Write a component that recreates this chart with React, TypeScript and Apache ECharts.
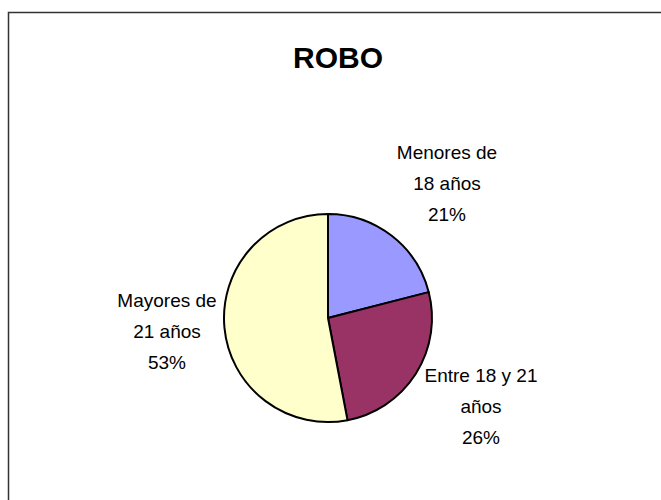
import React, { useEffect, useRef } from "react";
import * as echarts from "echarts";

const titleText = "ROBO";
const categories = ["Menores de\n18 años", "Entre 18 y 21\naños", "Mayores de\n21 años"];
const values = [21, 26, 53];
const colors = ["#9999FF", "#993366", "#FFFFCC"];
const labelPositions = [
  [447, 183],
  [481, 406],
  [167, 331],
];

const FONT = '"Liberation Sans", Arial, sans-serif';

export default function App() {
  const ref = useRef<HTMLDivElement>(null);
  useEffect(() => {
    if (!ref.current) return;
    const chart = echarts.init(ref.current, null, { renderer: "svg" });
    chart.setOption({
      animation: false,
      backgroundColor: "#ffffff",
      title: {
        text: titleText,
        left: 333,
        top: 37,
        textAlign: "center",
        textStyle: {
          fontFamily: FONT,
          fontWeight: "bold",
          fontSize: 30,
          color: "#000",
        },
      },
      graphic: [
        {
          type: "rect",
          shape: { x: 8.5, y: 12.5, width: 700, height: 600 },
          style: { fill: "none", stroke: "#333", lineWidth: 1.5 },
          silent: true,
        },
      ],
      series: [
        {
          type: "pie",
          center: [328, 318],
          radius: 104,
          startAngle: 90,
          clockwise: true,
          data: categories.map((c, i) => ({
            name: c,
            value: values[i],
            itemStyle: { color: colors[i] },
          })),
          itemStyle: { borderColor: "#000", borderWidth: 2 },
          label: {
            show: true,
            position: "outside",
            formatter: "{b}\n{d}%",
            fontFamily: FONT,
            fontSize: 19,
            lineHeight: 31,
            color: "#000",
            align: "center",
          },
          labelLine: { show: false },
          labelLayout: (params: any) => {
            const p = labelPositions[params.dataIndex];
            return { x: p[0], y: p[1], align: "center", verticalAlign: "middle" };
          },
          emphasis: { disabled: true },
        },
      ],
    });
    return () => chart.dispose();
  }, []);
  return (
    <div
      ref={ref}
      style={{ position: "fixed", left: 0, top: 0, width: 661, height: 500 }}
    />
  );
}
